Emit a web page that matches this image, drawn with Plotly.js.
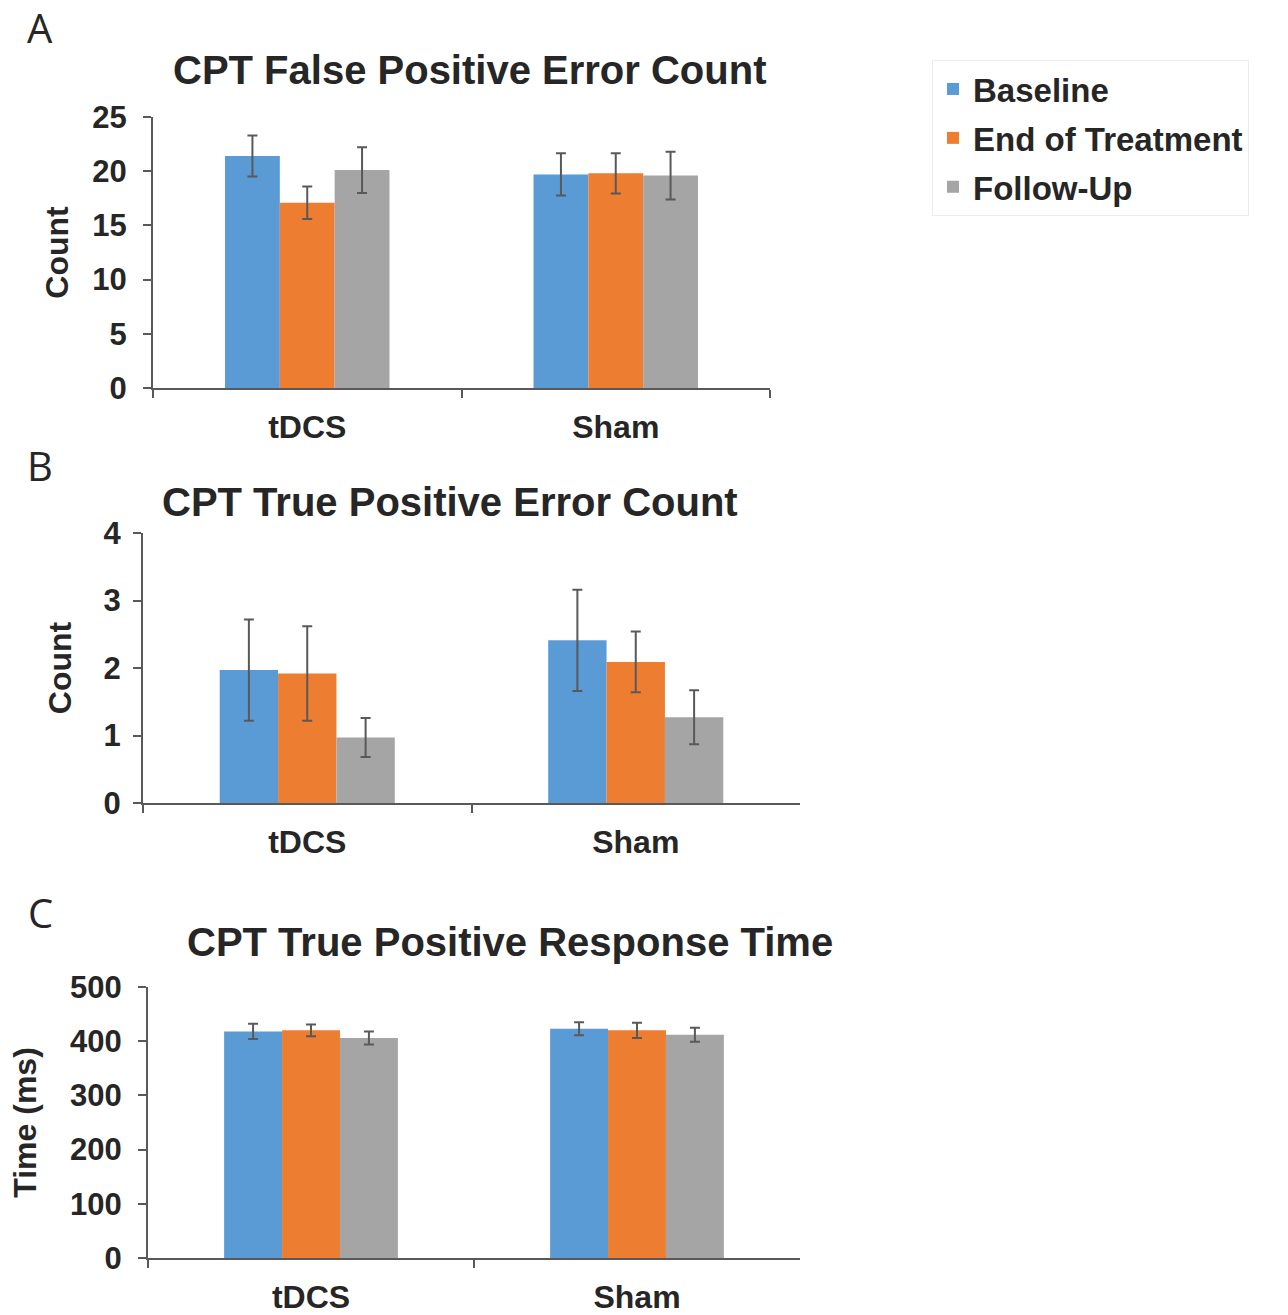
<!DOCTYPE html>
<html>
<head>
<meta charset="utf-8">
<script src="https://cdn.plot.ly/plotly-3.0.1.min.js"></script>
<style>html,body{margin:0;padding:0;background:#fff;}#chart{width:1288px;height:1315px;}</style>
</head>
<body>
<div id="chart"></div>
<script>
// ---- data ----
var categories = ['tDCS', 'Sham'];
var seriesNames = ['Baseline', 'End of Treatment', 'Follow-Up'];

// Panel A: CPT False Positive Error Count
var fpBaseline = [21.4, 19.7];
var fpBaselineErr = [1.9, 1.95];
var fpEnd = [17.1, 19.8];
var fpEndErr = [1.5, 1.85];
var fpFollow = [20.1, 19.6];
var fpFollowErr = [2.1, 2.2];

// Panel B: CPT True Positive Error Count
var tpBaseline = [1.97, 2.41];
var tpBaselineErr = [0.75, 0.75];
var tpEnd = [1.92, 2.09];
var tpEndErr = [0.70, 0.45];
var tpFollow = [0.97, 1.27];
var tpFollowErr = [0.29, 0.40];

// Panel C: CPT True Positive Response Time
var rtBaseline = [418, 423];
var rtBaselineErr = [14, 12];
var rtEnd = [420, 420];
var rtEndErr = [11, 14];
var rtFollow = [406, 412];
var rtFollowErr = [12, 13];

var panelTitles = ['CPT False Positive Error Count', 'CPT True Positive Error Count', 'CPT True Positive Response Time'];
var yTitles = ['Count', 'Count', 'Time (ms)'];
var panelLetters = ['A', 'B', 'C'];
var yTicksA = [0, 5, 10, 15, 20, 25];
var yTicksB = [0, 1, 2, 3, 4];
var yTicksC = [0, 100, 200, 300, 400, 500];

// ---- styling ----
var colors = ['#5B9BD5', '#ED7D31', '#A5A5A5'];
var W = 1288, H = 1315;
var FONT = 'Liberation Sans';
var axisColor = '#595959';
var textColor = '#262626';
function px(x) { return x / W; }
function py(y) { return 1 - y / H; }

var panels = [
  {vals: [fpBaseline, fpEnd, fpFollow], errs: [fpBaselineErr, fpEndErr, fpFollowErr], xa: 'x', ya: 'y'},
  {vals: [tpBaseline, tpEnd, tpFollow], errs: [tpBaselineErr, tpEndErr, tpFollowErr], xa: 'x2', ya: 'y2'},
  {vals: [rtBaseline, rtEnd, rtFollow], errs: [rtBaselineErr, rtEndErr, rtFollowErr], xa: 'x3', ya: 'y3'}
];

var traces = [];
panels.forEach(function (p, pi) {
  for (var s = 0; s < 3; s++) {
    traces.push({
      type: 'bar',
      x: categories,
      y: p.vals[s],
      name: seriesNames[s],
      legendgroup: seriesNames[s],
      showlegend: pi === 0,
      xaxis: p.xa,
      yaxis: p.ya,
      marker: {color: colors[s], line: {width: 0}},
      error_y: {type: 'data', array: p.errs[s], visible: true, color: axisColor, thickness: 2, width: 5},
      hoverinfo: 'x+y+name'
    });
  }
});

function xAxis(x0, x1, anchor) {
  return {
    domain: [px(x0), px(x1)],
    anchor: anchor,
    type: 'category',
    range: [-0.5, 1.5],
    tickson: 'boundaries',
    ticks: 'outside', ticklen: 8, tickwidth: 2, tickcolor: axisColor,
    showline: true, linecolor: axisColor, linewidth: 2,
    showgrid: false, zeroline: false,
    tickfont: {family: FONT, size: 32, color: textColor, weight: 'bold'},
    ticklabelstandoff: 10,
    fixedrange: true
  };
}
function yAxis(y0, y1, anchor, ticks, range, title, standoff, labelGap) {
  return {
    domain: [py(y1), py(y0)],
    anchor: anchor,
    range: range,
    tickvals: ticks,
    ticks: 'outside', ticklen: 8, tickwidth: 2, tickcolor: axisColor,
    showline: true, linecolor: axisColor, linewidth: 2,
    showgrid: false, zeroline: false,
    tickfont: {family: FONT, size: 31, color: textColor, weight: 'bold'},
    ticklabelstandoff: labelGap,
    title: {text: title, font: {family: FONT, size: 32, color: textColor, weight: 'bold'}, standoff: standoff},
    fixedrange: true
  };
}

var layout = {
  width: W, height: H,
  margin: {l: 0, r: 0, t: 0, b: 0},
  paper_bgcolor: '#ffffff', plot_bgcolor: '#ffffff',
  barmode: 'group', bargap: 0.467, bargroupgap: 0,
  font: {family: FONT, color: textColor},
  xaxis: xAxis(153, 770, 'y'),
  yaxis: yAxis(117, 388, 'x', yTicksA, [0, 25], yTitles[0], 14, 10),
  xaxis2: xAxis(143, 800, 'y2'),
  yaxis2: yAxis(533, 803, 'x2', yTicksB, [0, 4], yTitles[1], 22, 6),
  xaxis3: xAxis(148, 800, 'y3'),
  yaxis3: yAxis(987, 1258, 'x3', yTicksC, [0, 500], yTitles[2], 24, 10),
  legend: {
    x: px(932), y: py(60), xanchor: 'left', yanchor: 'top',
    bgcolor: '#ffffff', bordercolor: '#ececec', borderwidth: 1,
    font: {family: FONT, size: 33, color: textColor, weight: 'bold'},
    tracegroupgap: 3,
    itemwidth: 30,
    itemclick: false, itemdoubleclick: false
  },
  annotations: [
    {text: panelTitles[0], x: px(469), y: py(70), xref: 'paper', yref: 'paper', showarrow: false, xanchor: 'center', yanchor: 'middle', font: {family: FONT, size: 40, color: textColor, weight: 'bold'}},
    {text: panelTitles[1], x: px(450), y: py(502), xref: 'paper', yref: 'paper', showarrow: false, xanchor: 'center', yanchor: 'middle', font: {family: FONT, size: 40, color: textColor, weight: 'bold'}},
    {text: panelTitles[2], x: px(510), y: py(942), xref: 'paper', yref: 'paper', showarrow: false, xanchor: 'center', yanchor: 'middle', font: {family: FONT, size: 40, color: textColor, weight: 'bold'}},
    {text: panelLetters[0], x: px(40), y: py(28), xref: 'paper', yref: 'paper', showarrow: false, xanchor: 'center', yanchor: 'middle', font: {family: 'Open Sans', size: 40, color: textColor}},
    {text: panelLetters[1], x: px(40), y: py(465), xref: 'paper', yref: 'paper', showarrow: false, xanchor: 'center', yanchor: 'middle', font: {family: 'Open Sans', size: 40, color: textColor}},
    {text: panelLetters[2], x: px(40), y: py(912), xref: 'paper', yref: 'paper', showarrow: false, xanchor: 'center', yanchor: 'middle', font: {family: 'Open Sans', size: 40, color: textColor}}
  ]
};

Plotly.newPlot('chart', traces, layout, {displayModeBar: false, staticPlot: true});
</script>
</body>
</html>
